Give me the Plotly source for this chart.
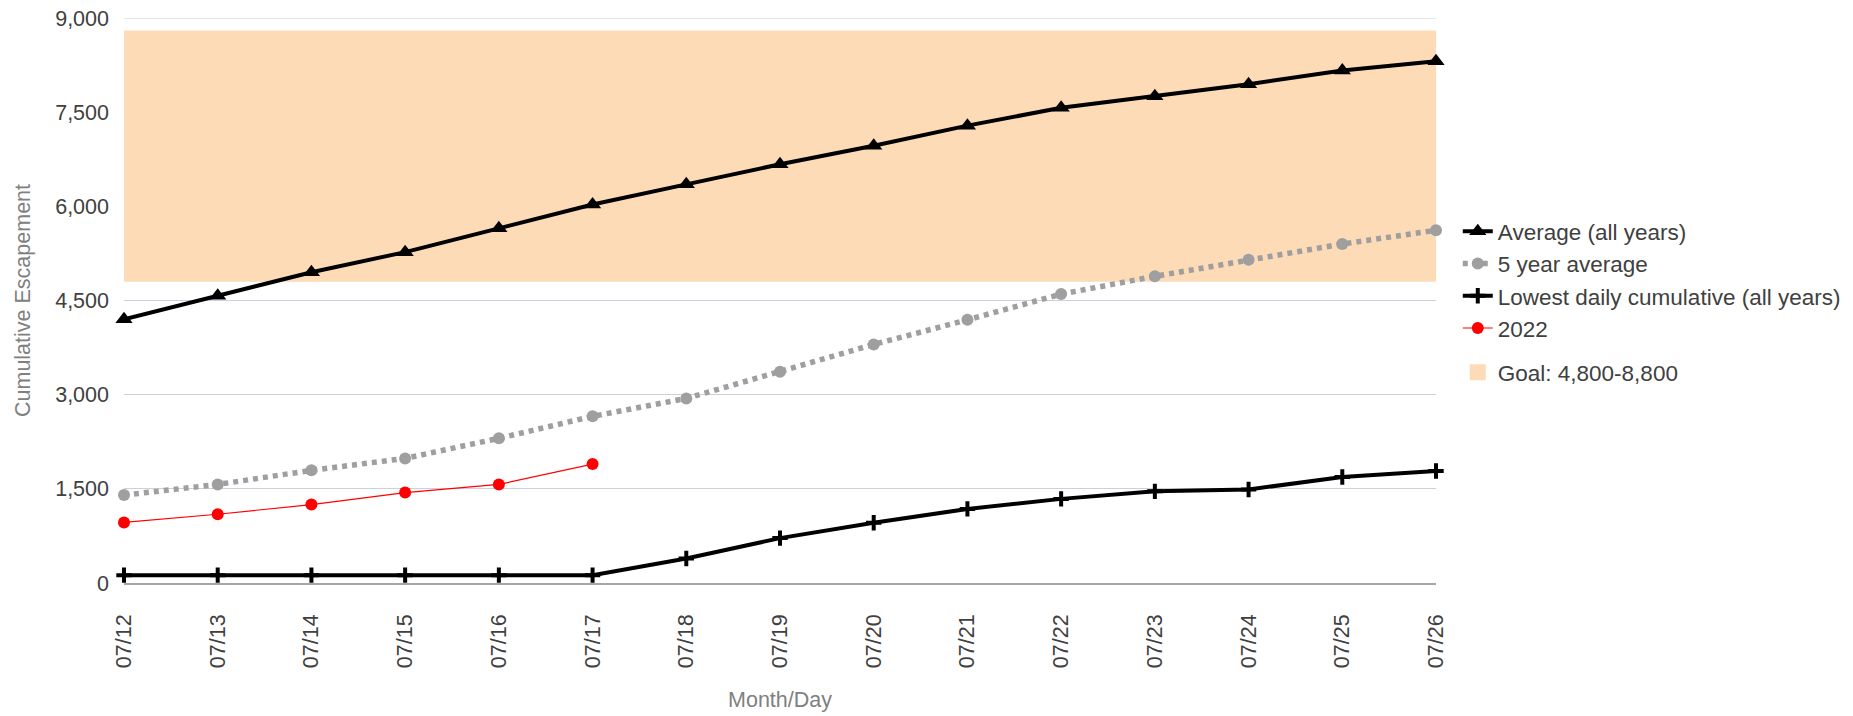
import plotly.graph_objects as go

# ---- data ----
dates = ["07/12", "07/13", "07/14", "07/15", "07/16", "07/17", "07/18", "07/19",
         "07/20", "07/21", "07/22", "07/23", "07/24", "07/25", "07/26"]
avg_all_years = [4200, 4575, 4950, 5270, 5650, 6030, 6350, 6670, 6965, 7285, 7570, 7755, 7945, 8165, 8310]
five_year_avg = [1400, 1570, 1795, 1985, 2305, 2655, 2940, 3365, 3800, 4192, 4602, 4885, 5148, 5400, 5618]
lowest_daily = [125, 125, 125, 125, 125, 125, 390, 715, 960, 1180, 1340, 1460, 1490, 1688, 1784]
y2022_dates = ["07/12", "07/13", "07/14", "07/15", "07/16", "07/17"]
y2022 = [965, 1095, 1250, 1440, 1570, 1895]
goal_low, goal_high = 4800, 8800
y_ticks = [0, 1500, 3000, 4500, 6000, 7500, 9000]

FONT = "Liberation Sans, Arial, sans-serif"
BAND = "#FDDBB6"
GRID = "#C8D1DC"

fig = go.Figure()

fig.add_trace(go.Scatter(
    x=dates, y=avg_all_years, name="Average (all years)", mode="lines+markers",
    line=dict(color="black", width=4),
    marker=dict(symbol="triangle-up", size=15, color="black"),
    cliponaxis=False, legendgroup="a"))
fig.add_trace(go.Scatter(
    x=dates, y=five_year_avg, name="5 year average", mode="lines+markers",
    line=dict(color="#9F9F9F", width=5.5, dash="5px,5px"),
    marker=dict(symbol="circle", size=12, color="#9F9F9F"),
    cliponaxis=False, legendgroup="a"))
fig.add_trace(go.Scatter(
    x=dates, y=lowest_daily, name="Lowest daily cumulative (all years)", mode="lines+markers",
    line=dict(color="black", width=4),
    marker=dict(symbol="cross-thin", size=11, color="black", line=dict(color="black", width=4)),
    cliponaxis=False, legendgroup="a"))
fig.add_trace(go.Scatter(
    x=y2022_dates, y=y2022, name="2022", mode="lines+markers",
    line=dict(color="#FF0000", width=1.2),
    marker=dict(symbol="circle", size=12, color="#FF0000"),
    cliponaxis=False, legendgroup="a"))
fig.add_trace(go.Scatter(
    x=[None], y=[None], name="Goal: 4,800-8,800", mode="markers",
    marker=dict(symbol="square", size=20, color=BAND),
    legendgroup="b"))

fig.add_shape(type="rect", xref="x", yref="y", x0=0, x1=len(dates) - 1,
              y0=goal_low, y1=goal_high, fillcolor=BAND, line=dict(width=0),
              layer="between")
# top gridline (plotly omits the gridline lying on the plot edge)
fig.add_shape(type="line", xref="x", yref="y", x0=0, x1=len(dates) - 1,
              y0=y_ticks[-1], y1=y_ticks[-1], line=dict(color=GRID, width=1.2),
              layer="below")

fig.update_layout(
    width=1853, height=716,
    margin=dict(l=116, r=425, t=10, b=141),
    paper_bgcolor="white", plot_bgcolor="white",
    font=dict(family=FONT, size=21.5, color="#404040"),
    showlegend=True,
    legend=dict(x=1.0166, xanchor="left", y=0.66, yanchor="top",
                font=dict(size=22.5, color="#404040"),
                traceorder="grouped", tracegroupgap=12,
                itemwidth=30, bgcolor="rgba(0,0,0,0)"),
    xaxis=dict(
        type="category", categoryorder="array", categoryarray=dates,
        range=[0, len(dates) - 1], tickangle=-90, automargin=False,
        showgrid=False, showline=True, linecolor="#A6A6A6", linewidth=1.5,
        ticks="", ticklabelstandoff=21, ticklabeloverflow="allow",
        tickfont=dict(size=21.5, color="#404040"),
        title=dict(text="Month/Day", font=dict(size=21.5, color="#808080"), standoff=25),
    ),
    yaxis=dict(
        range=[0, 9000], tickvals=y_ticks, tickformat=",", automargin=False,
        showgrid=True, gridcolor=GRID, gridwidth=1, zeroline=False,
        showline=False, ticks="", ticklabelstandoff=14, ticklabeloverflow="allow",
        tickfont=dict(size=21.5, color="#404040"),
        title=dict(text="Cumulative Escapement", font=dict(size=21.5, color="#808080"), standoff=18),
    ),
)

fig.write_html("out.html")
